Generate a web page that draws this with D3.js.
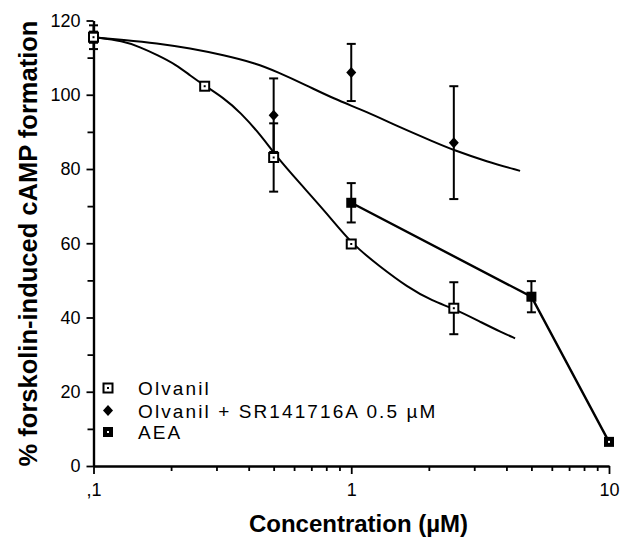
<!DOCTYPE html>
<html>
<head>
<meta charset="utf-8">
<script src="https://cdn.jsdelivr.net/npm/d3@7"></script>
<style>
  html, body { margin: 0; padding: 0; background: #fff; }
  svg { display: block; }
</style>
</head>
<body>
<svg id="chart" width="620" height="537"></svg>
<script>
// ---------- data ----------
const olvanilX   = [0.1, 0.27, 0.5, 1, 2.5];
const olvanilY   = [115.5, 102.3, 83.1, 59.8, 42.5];
const olvanilErr = [3.2, 0, 9.2, 0, 7.0];

const srX   = [0.1, 0.5, 1, 2.5];
const srY   = [115.5, 94.5, 106.0, 87.1];
const srErr = [1.5, 9.9, 7.7, 15.2];

const aeaX   = [1, 5, 10];
const aeaY   = [70.9, 45.6, 6.5];
const aeaErr = [5.3, 4.2, 0];

// fitted curves
const fitOlvX = [0.1, 0.1305, 0.1515, 0.1759, 0.2103, 0.2369, 0.2708, 0.3188, 0.3703, 0.4559, 0.5063, 0.6329, 0.8034, 1.004, 1.294, 1.642, 2.083, 2.490, 3.256, 3.779, 4.322];
const fitOlvY = [115.5, 114.5, 112.8, 110.8, 108.0, 105.2, 102.4, 99.2, 95.4, 88.3, 83.8, 76.1, 68.1, 59.8, 53.7, 48.3, 44.3, 42.5, 38.4, 36.2, 34.4];

const fitSrX = [0.1, 0.1305, 0.1759, 0.2369, 0.3188, 0.4298, 0.5141, 0.672, 0.852, 1.148, 1.547, 2.077, 2.489, 3.356, 4.519];
const fitSrY = [115.5, 114.8, 113.9, 112.5, 110.7, 108.4, 106.2, 102.5, 99.0, 95.4, 91.2, 87.4, 85.1, 82.0, 79.5];

const xMajorTicks = [0.1, 1, 10];
const xMajorLabels = [",1", "1", "10"];
const xMinorTicks = [0.2, 0.3, 0.4, 0.5, 0.6, 0.7, 0.8, 0.9, 2, 3, 4, 5, 6, 7, 8, 9];
const yMajorTicks = [0, 20, 40, 60, 80, 100, 120];
const yMinorTicks = [10, 30, 50, 70, 90, 110];

const legendLabels = ["Olvanil", "Olvanil + SR141716A 0.5 \u00B5M", "AEA"];
const xTitle = "Concentration (\u00B5M)";
const yTitle = "% forskolin-induced cAMP formation";

// ---------- layout ----------
const svg = d3.select("#chart");
const mLeft = 93.5, mRight = 609, mTop = 20.5, mBottom = 466;

const x = d3.scaleLog().domain([0.1, 10]).range([mLeft, mRight]);
const y = d3.scaleLinear().domain([0, 120]).range([mBottom, mTop]);

const tickFont = "'Liberation Sans', Arial, Helvetica, sans-serif";

// axes
const yAxis = svg.append("g").attr("transform", `translate(${mLeft},0)`)
  .call(d3.axisLeft(y).tickValues(yMajorTicks).tickSize(7).tickSizeOuter(0).tickPadding(6));
const yMinor = svg.append("g").attr("transform", `translate(${mLeft},0)`)
  .call(d3.axisLeft(y).tickValues(yMinorTicks).tickSize(6).tickSizeOuter(0).tickFormat(""));
const xAxis = svg.append("g").attr("transform", `translate(0,${mBottom})`)
  .call(d3.axisBottom(x).tickValues(xMajorTicks).tickSize(8).tickSizeOuter(0).tickPadding(9)
        .tickFormat((d, i) => xMajorLabels[i]));
const xMinor = svg.append("g").attr("transform", `translate(0,${mBottom})`)
  .call(d3.axisBottom(x).tickValues(xMinorTicks).tickSize(5).tickSizeOuter(0).tickFormat(""));

[yAxis, yMinor, xAxis, xMinor].forEach(g => {
  g.select(".domain").attr("stroke", "#000").attr("stroke-width", 2.2);
  g.selectAll(".tick line").attr("stroke", "#000").attr("stroke-width", 1.8);
  g.selectAll(".tick text").attr("font-family", tickFont).attr("font-size", 18).attr("fill", "#000");
});
xAxis.selectAll(".tick text").attr("dy", "0.71em");

// fit curves
const line = d3.line().x(d => x(d[0])).y(d => y(d[1])).curve(d3.curveBasis);
svg.append("path").datum(fitOlvX.map((v, i) => [v, fitOlvY[i]]))
  .attr("d", line).attr("fill", "none").attr("stroke", "#000").attr("stroke-width", 2);
svg.append("path").datum(fitSrX.map((v, i) => [v, fitSrY[i]]))
  .attr("d", line).attr("fill", "none").attr("stroke", "#000").attr("stroke-width", 2);

// AEA connecting line
const straight = d3.line().x(d => x(d[0])).y(d => y(d[1]));
svg.append("path").datum(aeaX.map((v, i) => [v, aeaY[i]]))
  .attr("d", straight).attr("fill", "none").attr("stroke", "#000").attr("stroke-width", 2.4);

// error bars
function errorBars(xs, ys, es) {
  const g = svg.append("g").attr("stroke", "#000").attr("stroke-width", 2);
  xs.forEach((xv, i) => {
    if (!es[i]) return;
    const cx = x(xv), y1 = y(ys[i] + es[i]), y2 = y(ys[i] - es[i]);
    g.append("line").attr("x1", cx).attr("x2", cx).attr("y1", y1).attr("y2", y2);
    g.append("line").attr("x1", cx - 4.5).attr("x2", cx + 4.5).attr("y1", y1).attr("y2", y1);
    g.append("line").attr("x1", cx - 4.5).attr("x2", cx + 4.5).attr("y1", y2).attr("y2", y2);
  });
}
errorBars(srX, srY, srErr);
errorBars(olvanilX, olvanilY, olvanilErr);
errorBars(aeaX, aeaY, aeaErr);

// markers
function diamond(g, cx, cy) {
  g.append("path").attr("d", `M${cx},${cy - 5.5}L${cx + 5},${cy}L${cx},${cy + 5.5}L${cx - 5},${cy}Z`)
    .attr("fill", "#000");
}
function openSquare(g, cx, cy) {
  g.append("rect").attr("x", cx - 4.5).attr("y", cy - 4.5).attr("width", 9).attr("height", 9)
    .attr("fill", "#fff").attr("stroke", "#000").attr("stroke-width", 2);
  g.append("rect").attr("x", cx - 1).attr("y", cy - 1).attr("width", 2).attr("height", 2).attr("fill", "#000");
}
function filledSquare(g, cx, cy, dot) {
  g.append("rect").attr("x", cx - 5).attr("y", cy - 5).attr("width", 10).attr("height", 10).attr("fill", "#000");
  if (dot) g.append("rect").attr("x", cx - 1).attr("y", cy - 1).attr("width", 2).attr("height", 2).attr("fill", "#fff");
}
const mk = svg.append("g");
srX.forEach((v, i) => diamond(mk, x(v), y(srY[i])));
olvanilX.forEach((v, i) => openSquare(mk, x(v), y(olvanilY[i])));
aeaX.forEach((v, i) => filledSquare(mk, x(v), y(aeaY[i]), i === aeaX.length - 1));

// legend
const leg = svg.append("g");
const legY = [388, 410.5, 432];
openSquare(leg, 108, legY[0]);
diamond(leg, 108, legY[1]);
filledSquare(leg, 108, legY[2], true);
legendLabels.forEach((t, i) => {
  leg.append("text").attr("x", 138).attr("y", legY[i] + 7)
    .attr("font-family", tickFont).attr("font-size", 19).attr("letter-spacing", "2.1px")
    .attr("fill", "#000").text(t);
});

// titles
svg.append("text").attr("x", 358.5).attr("y", 532).attr("text-anchor", "middle")
  .attr("font-family", tickFont).attr("font-weight", "bold").attr("font-size", 24).attr("fill", "#000")
  .text(xTitle);
svg.append("text").attr("transform", "translate(37,243.5) rotate(-90)").attr("text-anchor", "middle")
  .attr("font-family", tickFont).attr("font-weight", "bold").attr("font-size", 25.5).attr("fill", "#000")
  .text(yTitle);
</script>
</body>
</html>
